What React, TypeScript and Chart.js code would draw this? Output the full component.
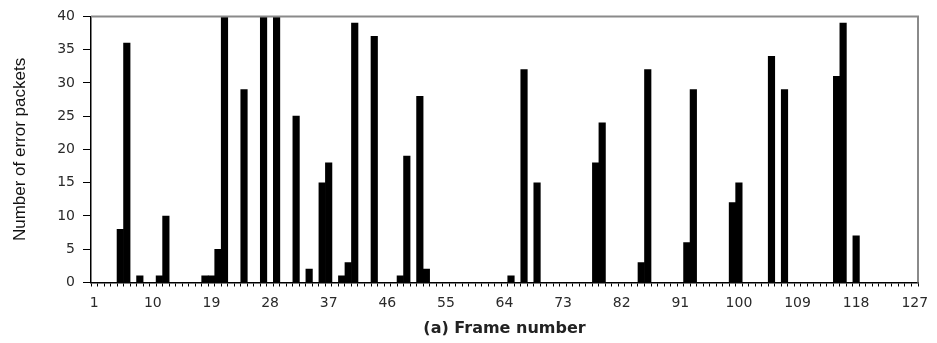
import React, { useEffect, useRef } from "react";
import { Chart, registerables } from "chart.js";

Chart.register(...registerables);

const frameCount = 127;
const frameNumbers: string[] = Array.from({ length: frameCount }, (_, i) => String(i + 1));
const shownTickLabels = ["1", "10", "19", "28", "37", "46", "55", "64", "73", "82", "91", "100", "109", "118", "127"];

const errorFrames = [5, 6, 8, 11, 12, 18, 19, 20, 21, 24, 27, 29, 32, 34, 36, 37, 39, 40, 41, 44, 48, 49, 51, 52, 65, 67, 69, 78, 79, 85, 86, 92, 93, 99, 100, 105, 107, 115, 116, 118];
const errorPackets = [8, 36, 1, 1, 10, 1, 1, 5, 40, 29, 40, 40, 25, 2, 15, 18, 1, 3, 39, 37, 1, 19, 28, 2, 1, 32, 15, 18, 24, 3, 32, 6, 29, 12, 15, 34, 29, 31, 39, 7];

const yTitle = "Number of error packets";
const xTitle = "(a) Frame number";

const frameBorder = {
  id: "frameBorder",
  afterDraw(chart: any) {
    const { ctx, chartArea } = chart;
    ctx.save();
    ctx.strokeStyle = "#8a8a8a";
    ctx.lineWidth = 2;
    ctx.beginPath();
    ctx.moveTo(chartArea.left, chartArea.top);
    ctx.lineTo(chartArea.right, chartArea.top);
    ctx.lineTo(chartArea.right, chartArea.bottom);
    ctx.stroke();
    ctx.restore();
  },
};

export default function App() {
  const ref = useRef<HTMLCanvasElement | null>(null);
  useEffect(() => {
    document.body.style.margin = "0";
    const values: number[] = frameNumbers.map(() => 0);
    errorFrames.forEach((f, i) => {
      values[f - 1] = errorPackets[i];
    });
    const chart = new Chart(ref.current as HTMLCanvasElement, {
      type: "bar",
      data: {
        labels: frameNumbers,
        datasets: [
          {
            data: values,
            backgroundColor: "#000000",
            borderWidth: 0,
            barPercentage: 1,
            categoryPercentage: 1,
          },
        ],
      },
      options: {
        animation: false,
        responsive: false,
        layout: { padding: { top: 16, right: 19, left: 0, bottom: 0 } },
        plugins: { legend: { display: false }, tooltip: { enabled: false } },
        scales: {
          x: {
            grid: {
              display: true,
              drawOnChartArea: false,
              drawTicks: true,
              tickLength: 4,
              color: "#000000",
              offset: true,
            },
            border: { display: true, color: "#000000", width: 1.5 },
            ticks: {
              autoSkip: false,
              maxRotation: 0,
              minRotation: 0,
              padding: 8,
              color: "#2a2a2a",
              font: { family: "DejaVu Sans", size: 14 },
              callback: (_v: any, index: number) => {
                const lab = frameNumbers[index];
                return shownTickLabels.includes(lab) ? lab : "";
              },
            },
            title: {
              display: true,
              text: xTitle,
              color: "#222222",
              font: { family: "DejaVu Sans", size: 16, weight: "bold" },
              padding: { top: 0, bottom: 5 },
            },
            afterFit: (scale: any) => {
              scale.height = 60.5;
            },
          },
          y: {
            min: 0,
            max: 40,
            grid: {
              display: true,
              drawOnChartArea: false,
              drawTicks: true,
              tickLength: 8,
              color: "#000000",
            },
            border: { display: true, color: "#000000", width: 1.5 },
            ticks: {
              stepSize: 5,
              padding: 8,
              color: "#2a2a2a",
              font: { family: "DejaVu Sans", size: 14 },
            },
            title: {
              display: true,
              text: yTitle,
              color: "#111111",
              font: { family: "Liberation Sans", size: 17 },
              padding: { top: 10, bottom: 0 },
            },
            afterFit: (scale: any) => {
              scale.width = 91;
            },
          },
        },
      },
      plugins: [frameBorder],
    });
    return () => chart.destroy();
  }, []);
  return (
    <div style={{ width: 937, height: 343, background: "#ffffff" }}>
      <canvas ref={ref} width={937} height={343} />
    </div>
  );
}
